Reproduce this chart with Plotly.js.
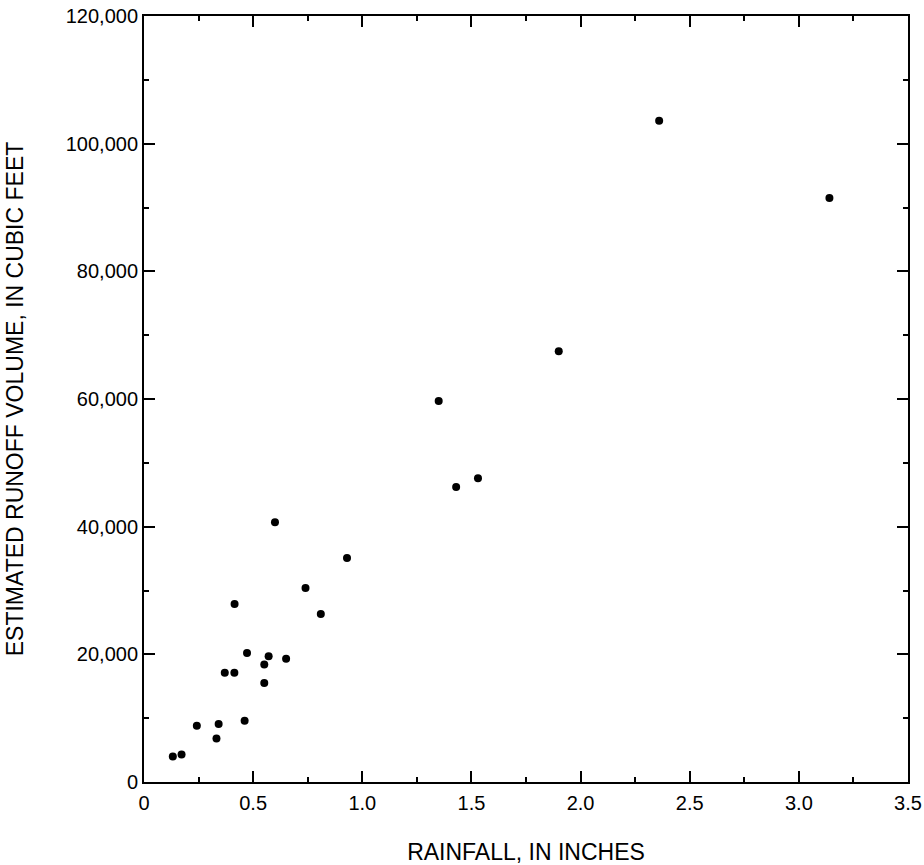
<!DOCTYPE html>
<html>
<head>
<meta charset="utf-8">
<script src="https://cdn.plot.ly/plotly-3.0.1.min.js"></script>
<style>html,body{margin:0;padding:0;background:#fff;}#chart{width:924px;height:865px;}</style>
</head>
<body>
<div id="chart"></div>
<script>
// Rainfall (inches) and estimated runoff volume (cubic feet)
const rainfall = [2.36, 3.14, 1.90, 1.35, 1.53, 1.43, 0.93, 0.74, 0.81, 0.60,
                  0.415, 0.472, 0.571, 0.651, 0.551, 0.370, 0.414, 0.551,
                  0.461, 0.342, 0.242, 0.332, 0.132, 0.172];
const runoff = [103600, 91500, 67500, 59700, 47600, 46200, 35100, 30400, 26300, 40700,
                27900, 20200, 19700, 19300, 18400, 17100, 17100, 15500,
                9600, 9100, 8800, 6800, 4000, 4300];

const xTickVals = [0, 0.5, 1.0, 1.5, 2.0, 2.5, 3.0, 3.5];
const xTickText = ["0", "0.5", "1.0", "1.5", "2.0", "2.5", "3.0", "3.5"];
const yTickVals = [0, 20000, 40000, 60000, 80000, 100000, 120000];
const yTickText = ["0", "20,000", "40,000", "60,000", "80,000", "100,000", "120,000"];

const xTitle = "RAINFALL, IN INCHES";
const yTitle = "ESTIMATED RUNOFF VOLUME, IN CUBIC FEET";

const font = "Liberation Sans, Arial, Helvetica, sans-serif";

const trace = {
  x: rainfall, y: runoff, type: "scatter", mode: "markers",
  marker: {color: "#000", size: 8},
  hoverinfo: "x+y"
};

const axisCommon = {
  showgrid: false, zeroline: false, showline: true, linecolor: "#000", linewidth: 2,
  mirror: "allticks", ticks: "inside", ticklen: 11, tickwidth: 2, tickcolor: "#000",
  tickfont: {family: font, size: 20, color: "#000"},
  tickmode: "array", automargin: false
};

const layout = {
  width: 924, height: 865,
  margin: {l: 144, r: 16, t: 16, b: 83},
  paper_bgcolor: "#fff", plot_bgcolor: "#fff",
  showlegend: false,
  xaxis: Object.assign({}, axisCommon, {
    range: [0, 3.5], tickvals: xTickVals, ticktext: xTickText,
    ticklabelstandoff: 2,
    minor: {dtick: 0.25, tick0: 0, ticks: "inside", ticklen: 5, tickwidth: 2, tickcolor: "#000"},
    title: {text: xTitle, font: {family: font, size: 23, color: "#000"}, standoff: 32}
  }),
  yaxis: Object.assign({}, axisCommon, {
    range: [0, 120000], tickvals: yTickVals, ticktext: yTickText,
    ticklabelstandoff: 0,
    minor: {dtick: 10000, tick0: 0, ticks: "inside", ticklen: 5, tickwidth: 2, tickcolor: "#000"},
    title: {text: yTitle, font: {family: font, size: 23, color: "#000"}, standoff: 36}
  })
};

Plotly.newPlot("chart", [trace], layout, {displayModeBar: false, staticPlot: true});
</script>
</body>
</html>
